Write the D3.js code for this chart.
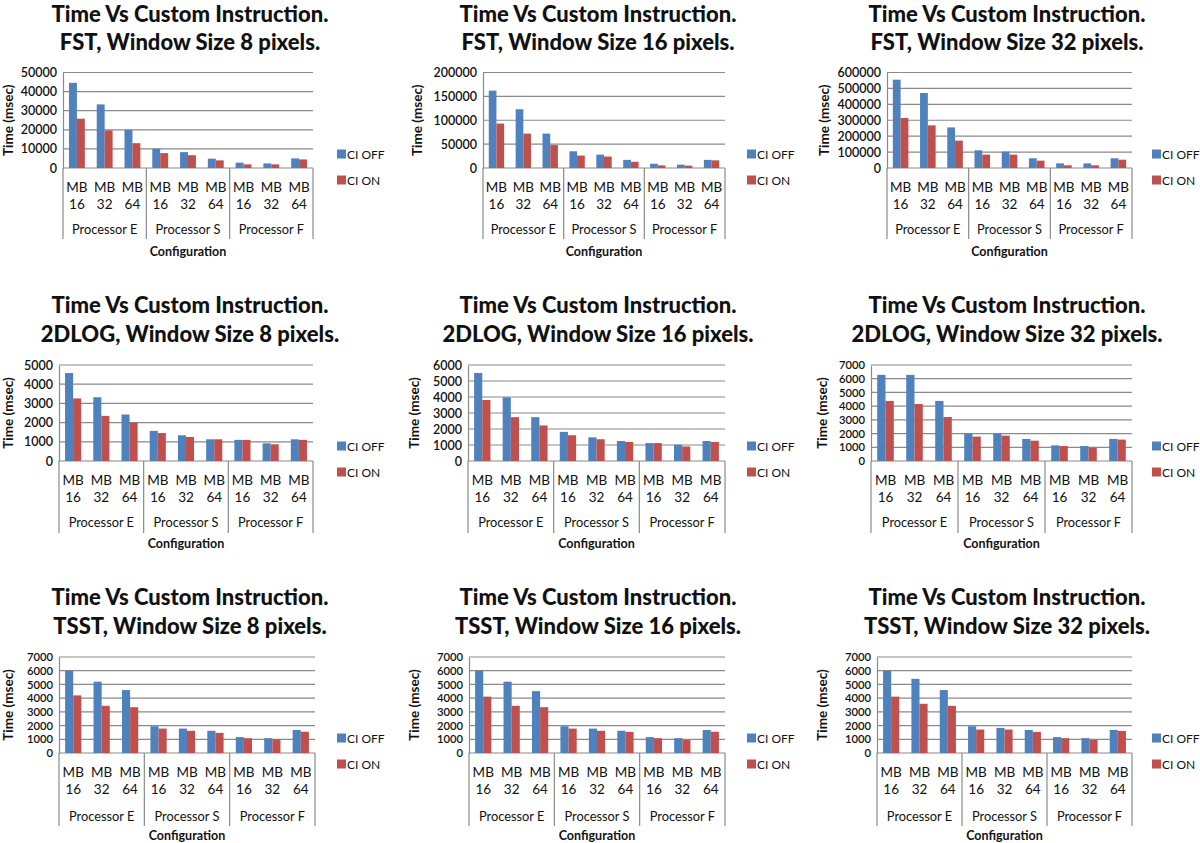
<!DOCTYPE html>
<html>
<head>
<meta charset="utf-8">
<script src="https://cdn.jsdelivr.net/npm/d3@7"></script>
<style>
  html, body { margin: 0; padding: 0; background: #fff; }
  svg { display: block; }
  text { font-family: Lato, "Open Sans", sans-serif; fill: #111; }
</style>
</head>
<body>
<svg id="chart" width="1200" height="843"></svg>
<script>
// ---------------- DATA ----------------
const categories = ["MB 16", "MB 32", "MB 64"];
const groups = ["Processor E", "Processor S", "Processor F"];
const seriesNames = ["CI OFF", "CI ON"];

const titleLine1 = "Time Vs Custom Instruction.";
const titleLine2 = [
  "FST, Window Size 8 pixels.", "FST, Window Size 16 pixels.", "FST, Window Size 32 pixels.",
  "2DLOG, Window Size 8 pixels.", "2DLOG, Window Size 16 pixels.", "2DLOG, Window Size 32 pixels.",
  "TSST, Window Size 8 pixels.", "TSST, Window Size 16 pixels.", "TSST, Window Size 32 pixels."
];
const yAxisTitle = "Time (msec)";
const xAxisTitle = "Configuration";

// tick maxima and steps per panel
const yMax  = [50000, 200000, 600000, 5000, 6000, 7000, 7000, 7000, 7000];
const yStep = [10000, 50000, 100000, 1000, 1000, 1000, 1000, 1000, 1000];

// values in order E16,E32,E64,S16,S32,S64,F16,F32,F64
const fst8Off   = [44600, 33300, 20000, 10100, 8300, 4900, 2800, 2400, 5000];
const fst8On    = [25800, 19700, 13000, 7800, 6700, 4000, 1900, 1900, 4500];
const fst16Off  = [162000, 123000, 72000, 35000, 28000, 17000, 9000, 7000, 17000];
const fst16On   = [93000, 72000, 48000, 26000, 24000, 13000, 5500, 5000, 16000];
const fst32Off  = [555000, 471000, 255000, 111000, 103000, 61000, 29000, 29000, 61000];
const fst32On   = [314000, 268000, 172000, 84000, 84000, 46000, 17000, 17000, 52000];
const dlog8Off  = [4580, 3320, 2420, 1570, 1340, 1130, 1100, 920, 1130];
const dlog8On   = [3260, 2350, 2000, 1460, 1250, 1130, 1100, 870, 1100];
const dlog16Off = [5500, 3980, 2740, 1820, 1480, 1250, 1120, 1020, 1250];
const dlog16On  = [3810, 2740, 2220, 1610, 1360, 1190, 1120, 910, 1190];
const dlog32Off = [6280, 6280, 4380, 2000, 2000, 1610, 1140, 1090, 1610];
const dlog32On  = [4380, 4160, 3210, 1780, 1850, 1480, 1090, 970, 1560];
const tsst8Off  = [6000, 5200, 4590, 1950, 1780, 1620, 1160, 1080, 1680];
const tsst8On   = [4200, 3440, 3340, 1780, 1620, 1470, 1080, 980, 1550];
const tsst16Off = [6000, 5200, 4510, 1950, 1780, 1620, 1160, 1080, 1680];
const tsst16On  = [4110, 3440, 3340, 1780, 1620, 1540, 1080, 950, 1550];
const tsst32Off = [6000, 5410, 4590, 1950, 1830, 1680, 1160, 1080, 1680];
const tsst32On  = [4110, 3590, 3440, 1710, 1710, 1540, 1080, 950, 1610];

const panelOff = [fst8Off, fst16Off, fst32Off, dlog8Off, dlog16Off, dlog32Off, tsst8Off, tsst16Off, tsst32Off];
const panelOn  = [fst8On, fst16On, fst32On, dlog8On, dlog16On, dlog32On, tsst8On, tsst16On, tsst32On];

// ---------------- LAYOUT (positions only) ----------------
const rows = [
  { t1: 22, t2: 50, top: 72.5, zero: 168, mb: 192, num: 209, proc: 234, sepBot: 239, conf: 256, leg1: 154, leg2: 180 },
  { t1: 313, t2: 342, top: 365, zero: 461, mb: 485, num: 502, proc: 527, sepBot: 533, conf: 548, leg1: 446, leg2: 472 },
  { t1: 605, t2: 634, top: 657, zero: 753, mb: 777, num: 794, proc: 821, sepBot: 826, conf: 840, leg1: 738, leg2: 764 }
];
const cols = [
  { x0: [63, 59, 59], x1: [313, 313, 315], title: 190, ylab: [9, 9, 9], leg: 337 },
  { x0: [483, 468, 469], x1: [725, 725, 725], title: 598, ylab: [418, 415, 415], leg: 747 },
  { x0: [887, 871, 877], x1: [1132, 1132, 1132], title: 1007, ylab: [825, 823, 823], leg: 1152 }
];

const BLUE = "#4f81bd", RED = "#c0504d", GRID = "#8a8a8a";

const svg = d3.select("#chart");
const fmt = d3.format("d");

const catKeys = [];
groups.forEach(g => categories.forEach(c => catKeys.push(g + "|" + c)));

for (let p = 0; p < 9; p++) {
  const r = Math.floor(p / 3), c = p % 3;
  const R = rows[r], C = cols[c];
  const x0 = C.x0[r], x1 = C.x1[r];
  const g = svg.append("g");

  // titles
  g.append("text").attr("x", C.title).attr("y", R.t1).attr("text-anchor", "middle")
    .style("font-size", "22px").style("font-weight", "900").text(titleLine1);
  g.append("text").attr("x", C.title).attr("y", R.t2).attr("text-anchor", "middle")
    .style("font-size", "22px").style("font-weight", "900").text(titleLine2[p]);

  const x = d3.scaleBand().domain(catKeys).range([x0, x1]).padding(0);
  const xs = d3.scaleBand().domain(seriesNames).range([0, x.bandwidth()]).paddingInner(0).paddingOuter(0.75);
  const y = d3.scaleLinear().domain([0, yMax[p]]).range([R.zero, R.top]);
  const ticks = d3.range(0, yMax[p] + yStep[p] / 2, yStep[p]);
  const tickGap = (R.zero - R.top) / (ticks.length - 1);
  const tickFont = Math.min(12.5, tickGap / 1.22);

  // gridlines
  g.append("g").selectAll("line").data(ticks).join("line")
    .attr("x1", x0).attr("x2", x1)
    .attr("y1", d => y(d)).attr("y2", d => y(d))
    .attr("stroke", GRID).attr("stroke-width", 1.2);

  // y axis via d3 axis
  const ya = g.append("g").attr("transform", `translate(${x0},0)`)
    .call(d3.axisLeft(y).tickValues(ticks).tickFormat(fmt).tickSize(0).tickPadding(6));
  ya.select(".domain").attr("stroke", GRID).attr("stroke-width", 1.2);
  ya.selectAll("text").style("font-size", tickFont + "px").style("font-family", "Lato, sans-serif")
    .style("font-weight", "600").attr("fill", "#111");

  // y axis title
  g.append("text").attr("transform", `translate(${C.ylab[r] + 4},${(R.top + R.zero) / 2}) rotate(-90)`)
    .attr("text-anchor", "middle").style("font-size", "13.5px").style("font-weight", "700").text(yAxisTitle);

  // bars
  const rowsData = catKeys.map((k, i) => ({ k, vals: [panelOff[p][i], panelOn[p][i]] }));
  const cat = g.append("g").selectAll("g").data(rowsData).join("g")
    .attr("transform", d => `translate(${x(d.k)},0)`);
  cat.selectAll("rect").data(d => d.vals.map((v, j) => ({ s: seriesNames[j], v }))).join("rect")
    .attr("x", d => xs(d.s)).attr("width", xs.bandwidth())
    .attr("y", d => y(d.v)).attr("height", d => R.zero - y(d.v))
    .attr("fill", d => d.s === seriesNames[0] ? BLUE : RED);

  // category separators (multi-level axis)
  const seps = [x0, x(catKeys[3]), x(catKeys[6]), x1];
  g.append("g").selectAll("line").data(seps).join("line")
    .attr("x1", d => d).attr("x2", d => d).attr("y1", R.zero).attr("y2", R.sepBot)
    .attr("stroke", GRID).attr("stroke-width", 1.2);

  // category labels
  const lab = g.append("g").selectAll("g").data(catKeys).join("g")
    .attr("transform", d => `translate(${x(d) + x.bandwidth() / 2},0)`);
  lab.append("text").attr("y", R.mb).attr("text-anchor", "middle").style("font-size", "13.5px")
    .text(d => d.split("|")[1].split(" ")[0]);
  lab.append("text").attr("y", R.num).attr("text-anchor", "middle").style("font-size", "13.5px")
    .text(d => d.split("|")[1].split(" ")[1]);

  // group labels
  g.append("g").selectAll("text").data(groups).join("text")
    .attr("x", (d, i) => x(catKeys[i * 3]) + x.bandwidth() * 1.5).attr("y", R.proc)
    .attr("text-anchor", "middle").style("font-size", "12.8px").text(d => d);

  // x axis title
  g.append("text").attr("x", (x0 + x1) / 2).attr("y", R.conf).attr("text-anchor", "middle")
    .style("font-size", "12.5px").style("font-weight", "700").text(xAxisTitle);

  // legend
  const legY = [R.leg1, R.leg2];
  seriesNames.forEach((s, j) => {
    g.append("rect").attr("x", C.leg).attr("y", legY[j] - 4.5).attr("width", 9).attr("height", 9)
      .attr("fill", j === 0 ? BLUE : RED);
    g.append("text").attr("x", C.leg + 10).attr("y", legY[j] + 4.5).style("font-size", "12px").text(s);
  });
}
</script>
</body>
</html>
